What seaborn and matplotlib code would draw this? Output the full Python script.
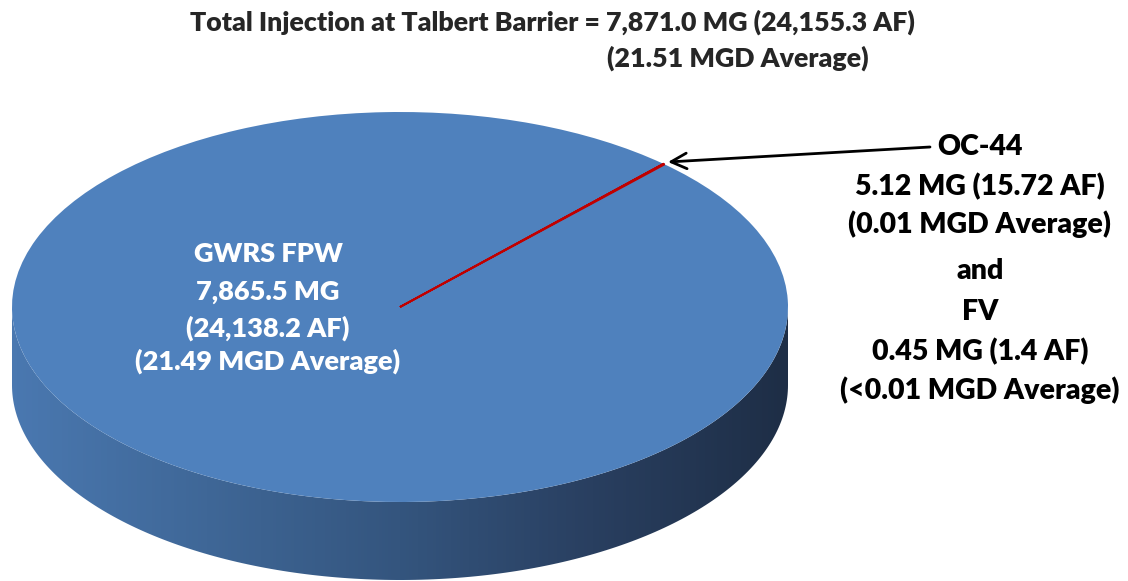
"""3D-style pie of Talbert Barrier injection sources."""

import matplotlib
matplotlib.use("Agg")

import matplotlib.pyplot as plt
import numpy as np
import seaborn as sns
from matplotlib.colors import LinearSegmentedColormap
from matplotlib.patches import Polygon

# data (MG injected)
sources = ["OC-44", "FV", "GWRS FPW"]
volumes_mg = [5.12, 0.45, 7865.5]
slice_colors = ["#C00000", "#9BBB59", "#4F81BD"]
edge_colors = ["#C00000", "#C00000", "#4F81BD"]
edge_widths = [1.3, 1.3, 0.0]

title_line1 = "Total Injection at Talbert Barrier = 7,871.0 MG (24,155.3 AF)"
title_line2 = "(21.51 MGD Average)"
inner_label = ["GWRS FPW", "7,865.5 MG", "(24,138.2 AF)", "(21.49 MGD Average)"]
outer_label = ["OC-44", "5.12 MG (15.72 AF)", "(0.01 MGD Average)", "and",
               "FV", "0.45 MG (1.4 AF)", "(<0.01 MGD Average)"]

sns.set_theme(style="white")
plt.rcParams["font.family"] = ["Lato", "DejaVu Sans"]

W, H = 1128, 581
fig = plt.figure(figsize=(W / 100, H / 100), dpi=100)
fig.patch.set_facecolor("white")

# ellipse geometry of the top face, in pixels
cx, cy, a, b, depth = 400, 307, 388, 195, 78

# top face drawn with pie in a stretched axes
ax_pie = fig.add_axes([(cx - a) / W, (H - cy - b) / H, 2 * a / W, 2 * b / H])
ax_pie.pie(
    volumes_mg,
    colors=slice_colors,
    startangle=47,
    counterclock=True,
    wedgeprops=dict(linewidth=0),
)
for w, ec, lw in zip(ax_pie.patches, edge_colors, edge_widths):
    w.set_edgecolor(ec)
    w.set_linewidth(lw)
    if lw > 0:
        w.set_zorder(3)  # keep the thin slices' outline above the big one
ax_pie.set_aspect("auto")
ax_pie.set_xlim(-1, 1)
ax_pie.set_ylim(-1, 1)
ax_pie.axis("off")

# underlay in pixel coords for the side wall
ax = fig.add_axes([0, 0, 1, 1], zorder=-1)
ax.set_xlim(0, W)
ax.set_ylim(H, 0)
ax.axis("off")

t = np.linspace(np.pi, 2 * np.pi, 200)
top_x = cx + a * np.cos(t)
top_y = cy - b * np.sin(t)
verts = np.vstack([
    np.column_stack([top_x, top_y]),
    np.column_stack([top_x[::-1], top_y[::-1] + depth]),
])
wall = Polygon(verts, closed=True, facecolor="none", edgecolor="none")
ax.add_patch(wall)
side_cmap = LinearSegmentedColormap.from_list(
    "side", ["#4A78B0", "#3F6797", "#34557E", "#293F60", "#1E2E46"]
)
grad = ax.imshow(
    np.linspace(0, 1, 256)[None, :],
    cmap=side_cmap,
    extent=[cx - a, cx + a, cy + b + depth + 5, cy - 5],
    aspect="auto",
    interpolation="bicubic",
)
grad.set_clip_path(wall)

# overlay for text and arrow
ax_top = fig.add_axes([0, 0, 1, 1], zorder=5)
ax_top.set_xlim(0, W)
ax_top.set_ylim(H, 0)
ax_top.axis("off")

ax_top.text(552, 22, title_line1, ha="center", va="center", fontsize=19.3,
            fontweight="heavy")
ax_top.text(607, 58, title_line2, ha="left", va="center", fontsize=19.3,
            fontweight="heavy")

for txt, y in zip(inner_label, [254, 292, 328, 361]):
    ax_top.text(268, y, txt, ha="center", va="center", fontsize=19.5,
                fontweight="heavy", color="white")

for txt, y in zip(outer_label, [147, 187, 224, 271, 312, 352, 390]):
    ax_top.text(980, y, txt, ha="center", va="center", fontsize=20.5,
                fontweight="heavy", color="black")

ax_top.annotate(
    "",
    xy=(668, 162),
    xytext=(930, 147),
    arrowprops=dict(arrowstyle="->", lw=2, color="black", mutation_scale=28,
                    shrinkA=0, shrinkB=0),
)

fig.savefig("out.png", dpi=100)
plt.close(fig)
